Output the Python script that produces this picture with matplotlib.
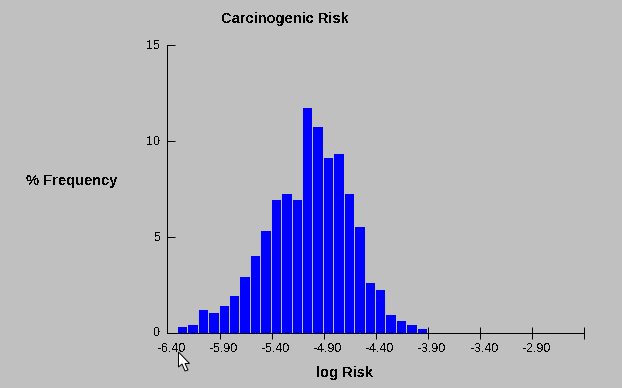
import matplotlib
matplotlib.use("Agg")
import matplotlib.pyplot as plt
import numpy as np
from matplotlib.patches import Polygon

plt.rcParams['font.family'] = ['Liberation Sans', 'DejaVu Sans']
plt.rcParams['text.antialiased'] = False

bin_left = [-6.3, -6.2, -6.1, -6.0, -5.9, -5.8, -5.7, -5.6, -5.5, -5.4, -5.3, -5.2,
            -5.1, -5.0, -4.9, -4.8, -4.7, -4.6, -4.5, -4.4, -4.3, -4.2, -4.1, -4.0]
freq = [0.3, 0.4, 1.2, 1.0, 1.4, 1.9, 2.9, 4.0, 5.3, 6.9, 7.2, 6.9,
        11.7, 10.7, 9.1, 9.3, 7.2, 5.5, 2.6, 2.2, 0.9, 0.6, 0.4, 0.2]
x_ticks = [-5.9, -5.4, -4.9, -4.4, -3.9, -3.4, -2.9, -2.4]
label_x = [-6.40, -5.90, -5.40, -4.90, -4.40, -3.90, -3.40, -2.90]
x_labels = ['-6.40', '-5.90', '-5.40', '-4.90', '-4.40', '-3.90', '-3.40', '-2.90']
y_ticks = [5, 10, 15]
label_y = [0, 5, 10, 15]
y_labels = ['0', '5', '10', '15']

W, H = 622, 388
BG = '#c0c0c0'

fig = plt.figure(figsize=(W / 100, H / 100), dpi=100, facecolor=BG)
ax = fig.add_axes((167.5 / W, 1 - 332.5 / H, 417 / W, 287.5 / H))
ax.set_facecolor(BG)
ax.set_xlim(-6.4, -2.4)
ax.set_ylim(0, 15)

ax.bar(bin_left, freq, width=0.09, align='edge', color='#0000ff', linewidth=0, zorder=2)

for s in ['top', 'right']:
    ax.spines[s].set_visible(False)
for s in ['left', 'bottom']:
    ax.spines[s].set_linewidth(0.72)
    ax.spines[s].set_color('black')

ax.set_xticks(x_ticks)
ax.set_xticklabels([])
ax.set_yticks(y_ticks)
ax.set_yticklabels([])
ax.tick_params(axis='x', direction='inout', length=8.6, width=0.72, color='black')
ax.tick_params(axis='y', direction='in', length=5.4, width=0.72, color='black')

# the labels sit a few pixels right of their ticks in the original
for xv, lab in zip(label_x, x_labels):
    ax.annotate(lab, (xv, 0), xytext=(4, -16), xycoords='data', textcoords='offset pixels',
                ha='center', va='center', fontsize=9, color='black')
for yv, lab in zip(label_y, y_labels):
    ax.annotate(lab, (-6.4, yv), xytext=(-7.5, -1), xycoords='data', textcoords='offset pixels',
                ha='right', va='center', fontsize=9, color='black')

fig.text(285 / W, 1 - 18.5 / H, 'Carcinogenic Risk', ha='center', va='center',
         fontsize=10.5, fontweight='bold', color='black')
fig.text(344.5 / W, 1 - 373.5 / H, 'log Risk', ha='center', va='center',
         fontsize=10.5, fontweight='bold', color='black')
fig.text(71.5 / W, 1 - 180.5 / H, '% Frequency', ha='center', va='center',
         fontsize=10.5, fontweight='bold', color='black')

# mouse pointer captured in the screenshot
cursor = np.array([[178.5, 352], [178.5, 367], [182, 364], [185, 371], [188, 370],
                   [185, 363.5], [189.5, 363.5]])
cursor[:, 0] /= W
cursor[:, 1] = 1 - cursor[:, 1] / H
fig.add_artist(Polygon(cursor, closed=True, transform=fig.transFigure,
                       facecolor='white', edgecolor='black', linewidth=0.72))

fig.savefig('out.png', dpi=100, facecolor=BG)
